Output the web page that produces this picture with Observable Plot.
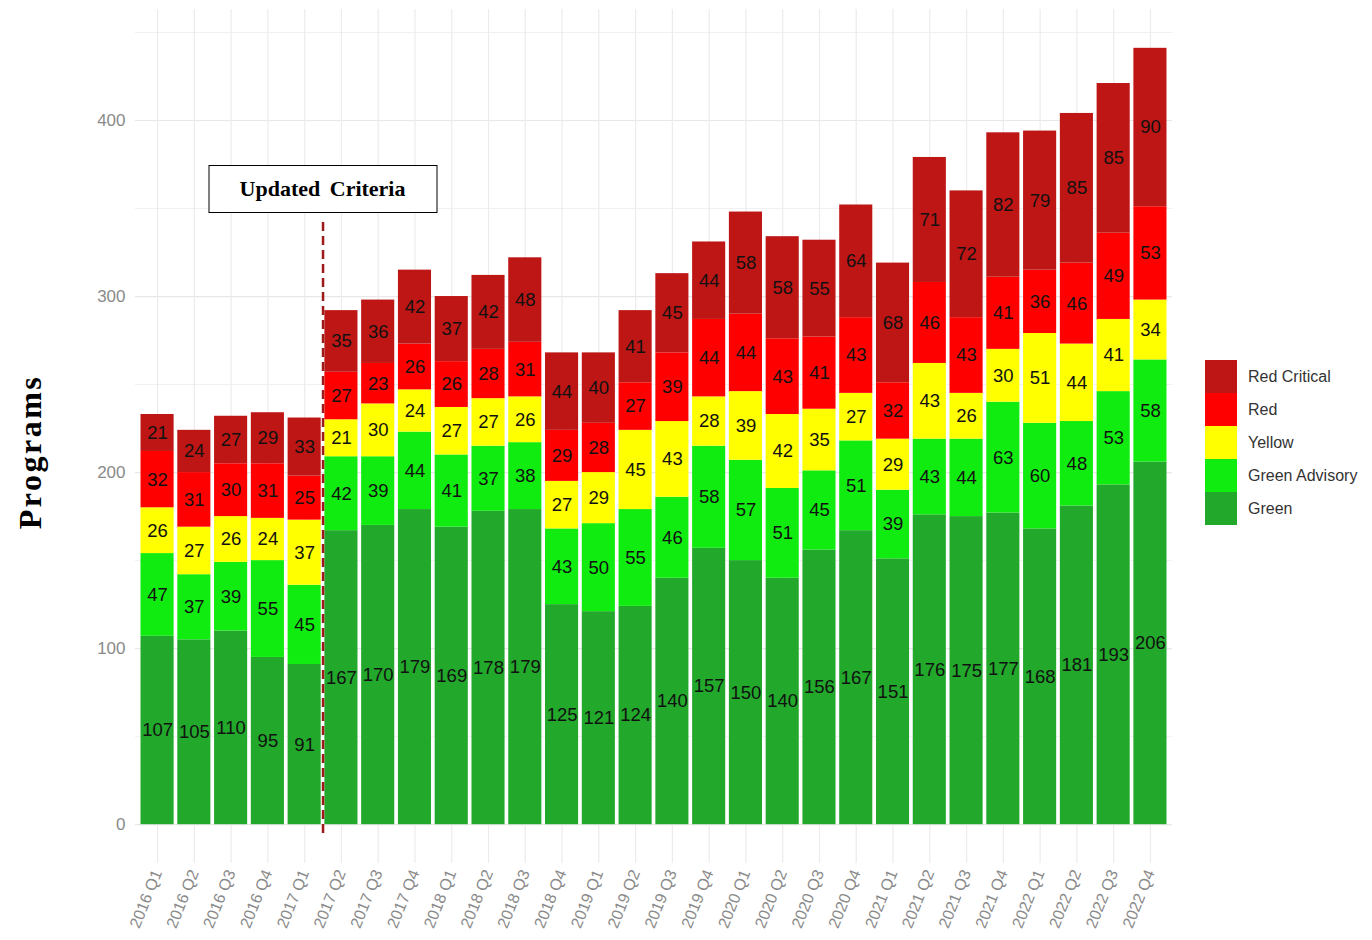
<!DOCTYPE html>
<html>
<head>
<meta charset="utf-8">
<script src="https://cdn.jsdelivr.net/npm/d3@7"></script>
<script src="https://cdn.jsdelivr.net/npm/@observablehq/plot@0.6"></script>
<style>
  body { margin: 0; background: #fff; }
  #wrap { position: relative; width: 1372px; height: 940px; font-family: "Liberation Sans", Arial, sans-serif; }
  #wrap svg { position: absolute; left: 0; top: 0; }
  .ytitle {
    position: absolute; left: 30px; top: 452px;
    transform: translate(-50%, -50%) rotate(-90deg);
    font-family: "Liberation Serif", "Times New Roman", serif; font-weight: bold;
    font-size: 32px; letter-spacing: 2.5px; color: #000; white-space: nowrap;
  }
  .note {
    position: absolute; box-sizing: border-box; width: 229px; height: 48px;
    transform: translate(-50%, -50%);
    border: 1.5px solid #000; background: #fff;
    display: flex; align-items: center; justify-content: center;
    font-family: "Liberation Serif", "Times New Roman", serif; font-weight: bold;
    font-size: 22px; word-spacing: 4px; color: #000; white-space: nowrap;
  }
  .legend { position: absolute; left: 1205px; top: 360px; }
  .legend .row { display: flex; align-items: center; height: 33px; }
  .legend .key { width: 32px; height: 33px; }
  .legend .lab { margin-left: 11px; font-size: 16px; color: #333; white-space: nowrap; }
</style>
</head>
<body>
<div id="wrap"></div>
<script>
// Quarterly program counts by status
const quarters = [
  "2016 Q1","2016 Q2","2016 Q3","2016 Q4","2017 Q1","2017 Q2","2017 Q3","2017 Q4",
  "2018 Q1","2018 Q2","2018 Q3","2018 Q4","2019 Q1","2019 Q2","2019 Q3","2019 Q4",
  "2020 Q1","2020 Q2","2020 Q3","2020 Q4","2021 Q1","2021 Q2","2021 Q3","2021 Q4",
  "2022 Q1","2022 Q2","2022 Q3","2022 Q4"
];
const green         = [107,105,110, 95, 91,167,170,179,169,178,179,125,121,124,140,157,150,140,156,167,151,176,175,177,168,181,193,206];
const greenAdvisory = [ 47, 37, 39, 55, 45, 42, 39, 44, 41, 37, 38, 43, 50, 55, 46, 58, 57, 51, 45, 51, 39, 43, 44, 63, 60, 48, 53, 58];
const yellow        = [ 26, 27, 26, 24, 37, 21, 30, 24, 27, 27, 26, 27, 29, 45, 43, 28, 39, 42, 35, 27, 29, 43, 26, 30, 51, 44, 41, 34];
const red           = [ 32, 31, 30, 31, 25, 27, 23, 26, 26, 28, 31, 29, 28, 27, 39, 44, 44, 43, 41, 43, 32, 46, 43, 41, 36, 46, 49, 53];
const redCritical   = [ 21, 24, 27, 29, 33, 35, 36, 42, 37, 42, 48, 44, 40, 41, 45, 44, 58, 58, 55, 64, 68, 71, 72, 82, 79, 85, 85, 90];

const seriesNames  = ["Green", "Green Advisory", "Yellow", "Red", "Red Critical"];
const seriesValues = [green, greenAdvisory, yellow, red, redCritical];
const seriesColors = ["#22a82a", "#10ec10", "#ffff00", "#ff0000", "#be1515"];

const yMajor = [0, 100, 200, 300, 400];
const yMinor = [50, 150, 250, 350, 450];

// Annotation: criteria change between 2017 Q1 and 2017 Q2
const changeAfter = "2017 Q1";
const changeLabel = "Updated Criteria";
const changeRule = [-5, 342];   // value span of the dashed marker
const changeBoxY = 361;         // value at the centre of the label box

const rows = quarters.flatMap((q, i) =>
  seriesNames.map((s, j) => ({quarter: q, series: s, value: seriesValues[j][i]}))
);

const base = {
  width: 1372,
  height: 940,
  marginLeft: 135,
  marginRight: 200,
  marginTop: 9,
  marginBottom: 77,
  style: {fontFamily: "'Liberation Sans', Arial, sans-serif", background: "transparent"},
  x: {type: "band", domain: quarters, paddingInner: 0.1, paddingOuter: 0.15, round: false},
  y: {domain: [-22.05, 463.05]},
  color: {domain: seriesNames, range: seriesColors}
};

// scale probe to find the band step for the boundary marker
const probe = Plot.plot({...base, marks: [Plot.ruleX(quarters)]});
const step = probe.scale("x").step;

const plot = Plot.plot({
  ...base,
  marks: [
    Plot.ruleY(yMinor, {stroke: "#f1f1f1", strokeWidth: 1}),
    Plot.ruleY(yMajor, {stroke: "#e8e8e8", strokeWidth: 1.2}),
    Plot.ruleX(quarters, {stroke: "#ececec", strokeWidth: 1.2}),
    Plot.barY(rows, Plot.stackY({
      x: "quarter", y: "value", fill: "series", order: seriesNames
    })),
    Plot.text(rows, Plot.stackY({
      x: "quarter", y: "value", z: "series", order: seriesNames,
      text: d => d.value, fill: "#111", fontSize: 18.5
    })),
    Plot.ruleX([changeAfter], {
      dx: step / 2, y1: changeRule[0], y2: changeRule[1],
      stroke: "#9e1a1a", strokeWidth: 2.5, strokeDasharray: "9,5"
    }),
    Plot.axisY({ticks: yMajor, tickSize: 0, tickPadding: 10, fontSize: 17, fill: "#8a8a8a", label: null}),
    Plot.axisX({tickRotate: -68, tickSize: 0, tickPadding: 7, fontSize: 16, fill: "#8a8a8a", label: null})
  ]
});

const wrap = document.getElementById("wrap");
wrap.appendChild(plot);

// Axis title
const yt = document.createElement("div");
yt.className = "ytitle";
yt.textContent = "Programs";
wrap.appendChild(yt);

// Boxed annotation label, placed through the plot's own scales
const xs = plot.scale("x"), ys = plot.scale("y");
const note = document.createElement("div");
note.className = "note";
note.textContent = changeLabel;
note.style.left = (xs.apply(changeAfter) + xs.bandwidth / 2 + step / 2) + "px";
note.style.top = ys.apply(changeBoxY) + "px";
wrap.appendChild(note);

// Legend, top entry is the top of each stack
const legend = document.createElement("div");
legend.className = "legend";
seriesNames.slice().reverse().forEach(name => {
  const row = document.createElement("div");
  row.className = "row";
  const key = document.createElement("div");
  key.className = "key";
  key.style.background = plot.scale("color").apply(name);
  const lab = document.createElement("div");
  lab.className = "lab";
  lab.textContent = name;
  row.appendChild(key);
  row.appendChild(lab);
  legend.appendChild(row);
});
wrap.appendChild(legend);
</script>
</body>
</html>
